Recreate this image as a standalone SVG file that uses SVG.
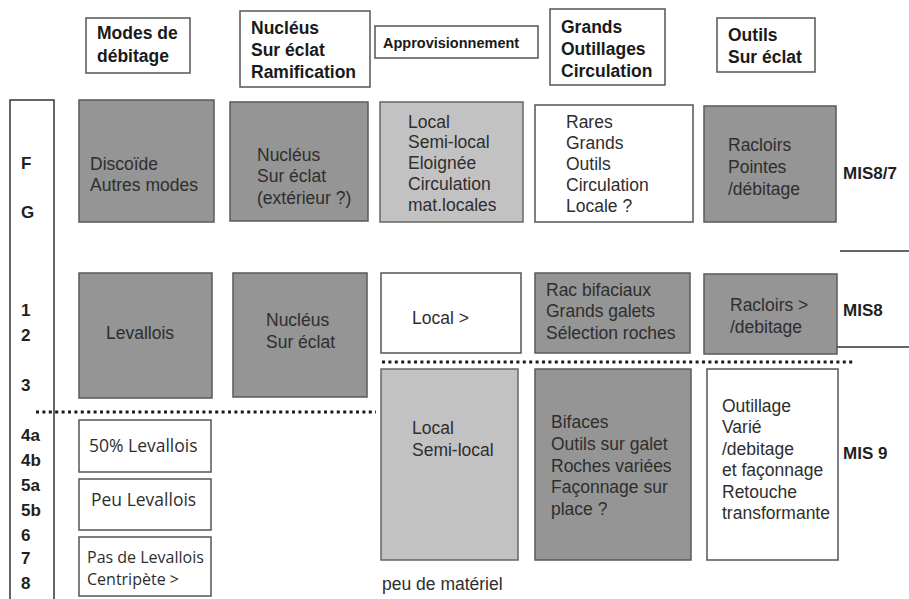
<svg xmlns="http://www.w3.org/2000/svg" width="909" height="599" viewBox="0 0 909 599">
<style>
  text { font-family: "Liberation Sans", Arial, sans-serif; fill: #2e2e2e; font-size: 17.5px; }
  .hd { font-weight: bold; fill: #1a1a1a; font-size: 17.5px; }
  .lab { font-weight: bold; fill: #1f1f1f; font-size: 17px; }
  .os { font-family: "Open Sans", "Liberation Sans", sans-serif; font-size: 17.5px; }
  .os2 { font-family: "Open Sans", "Liberation Sans", sans-serif; font-size: 16px; }
  .w { fill: #ffffff; stroke: #555; stroke-width: 1.5; }
  .dk { fill: #959595; stroke: #5a5a5a; stroke-width: 1.5; }
  .lt { fill: #c2c2c2; stroke: #666; stroke-width: 1.5; }
  .dot { stroke: #1a1a1a; stroke-width: 3; stroke-dasharray: 3 3.4; fill: none; }
  .ln { stroke: #333; stroke-width: 1.5; fill: none; }
</style>
<rect width="909" height="599" fill="#ffffff"/>

<g id="hdr-modes"><rect class="w" x="86" y="18" width="104" height="55"/>
<text class="hd" x="97" y="39">Modes de</text><text class="hd" x="97" y="62">débitage</text></g>
<g id="hdr-nucleus"><rect class="w" x="240" y="11" width="130" height="76"/>
<text class="hd" x="251" y="34">Nucléus</text><text class="hd" x="251" y="56">Sur éclat</text><text class="hd" x="251" y="78">Ramification</text></g>
<g id="hdr-appro"><rect class="w" x="375" y="26" width="163" height="32"/>
<text class="hd" x="383" y="48" style="font-size:14.5px">Approvisionnement</text></g>
<g id="hdr-grands"><rect class="w" x="550" y="9" width="115" height="76"/>
<text class="hd" x="561" y="33">Grands</text><text class="hd" x="561" y="55">Outillages</text><text class="hd" x="561" y="77">Circulation</text></g>
<g id="hdr-outils"><rect class="w" x="717" y="18" width="98" height="54"/>
<text class="hd" x="728" y="41">Outils</text><text class="hd" x="728" y="63">Sur éclat</text></g>

<g id="levels">
<path class="ln" d="M10,601 V100 H54 V601" stroke="#666"/>
<text class="lab" x="21" y="169">F</text>
<text class="lab" x="21" y="218">G</text>
<text class="lab" x="21" y="316">1</text>
<text class="lab" x="21" y="341">2</text>
<text class="lab" x="21" y="391">3</text>
<text class="lab" x="21" y="441">4a</text>
<text class="lab" x="21" y="466">4b</text>
<text class="lab" x="21" y="491">5a</text>
<text class="lab" x="21" y="516">5b</text>
<text class="lab" x="21" y="541">6</text>
<text class="lab" x="21" y="564">7</text>
<text class="lab" x="21" y="589">8</text>
</g>

<g id="r1-discoide"><rect class="dk" x="79" y="100" width="135" height="122"/>
<text x="90" y="170">Discoïde</text><text x="90" y="191">Autres modes</text></g>
<g id="r1-nucleus"><rect class="dk" x="230" y="102" width="138" height="119"/>
<text x="257" y="161">Nucléus</text><text x="257" y="182">Sur éclat</text><text x="257" y="204">(extérieur ?)</text></g>
<g id="r1-local"><rect class="lt" x="380" y="102" width="143" height="120"/>
<text x="408" y="128">Local</text><text x="408" y="148">Semi-local</text><text x="408" y="169">Eloignée</text><text x="408" y="190">Circulation</text><text x="408" y="211">mat.locales</text></g>
<g id="r1-rares"><rect class="w" x="535" y="105" width="158" height="117"/>
<text x="566" y="128">Rares</text><text x="566" y="149">Grands</text><text x="566" y="170">Outils</text><text x="566" y="191">Circulation</text><text x="566" y="212">Locale ?</text></g>
<g id="r1-racloirs"><rect class="dk" x="704" y="106" width="132" height="116"/>
<text x="728" y="151">Racloirs</text><text x="728" y="173">Pointes</text><text x="728" y="195">/débitage</text></g>
<text class="lab" x="843" y="179">MIS8/7</text>

<g id="r2-levallois"><rect class="dk" x="79" y="273" width="133" height="125"/>
<text x="106" y="339">Levallois</text></g>
<g id="r2-nucleus"><rect class="dk" x="233" y="273" width="134" height="124"/>
<text x="266" y="326">Nucléus</text><text x="266" y="348">Sur éclat</text></g>
<g id="r2-local"><rect class="w" x="381" y="273" width="140" height="80"/>
<text x="412" y="324">Local &gt;</text></g>
<g id="r2-rac"><rect class="dk" x="535" y="273" width="155" height="80"/>
<text x="546" y="296">Rac bifaciaux</text><text x="546" y="317">Grands galets</text><text x="546" y="339">Sélection roches</text></g>
<g id="r2-racloirs"><rect class="dk" x="704" y="274" width="133" height="80"/>
<text x="730" y="311">Racloirs &gt;</text><text x="730" y="333">/debitage</text></g>
<text class="lab" x="843" y="316">MIS8</text>

<g id="r3-local"><rect class="lt" x="381" y="369" width="137" height="191"/>
<text x="412" y="434">Local</text><text x="412" y="456">Semi-local</text></g>
<g id="r3-bifaces"><rect class="dk" x="535" y="369" width="156" height="191"/>
<text x="551" y="428">Bifaces</text><text x="551" y="450">Outils sur galet</text><text x="551" y="472">Roches variées</text><text x="551" y="493">Façonnage sur</text><text x="551" y="515">place ?</text></g>
<g id="r3-outillage"><rect class="w" x="707" y="369" width="131" height="191"/>
<text x="722" y="412">Outillage</text><text x="722" y="433">Varié</text><text x="722" y="455">/debitage</text><text x="722" y="476">et façonnage</text><text x="722" y="498">Retouche</text><text x="722" y="519">transformante</text></g>
<text class="lab" x="843" y="459">MIS 9</text>
<text x="382" y="590">peu de matériel</text>

<g id="l-50"><rect class="w" x="79" y="420" width="132" height="52"/>
<text class="os" x="89" y="452">50% Levallois</text></g>
<g id="l-peu"><rect class="w" x="79" y="479" width="132" height="51"/>
<text class="os" x="91" y="506">Peu Levallois</text></g>
<g id="l-pas"><rect class="w" x="79" y="537" width="132" height="59"/>
<text class="os2" x="87" y="563">Pas de Levallois</text><text class="os2" x="87" y="585">Centripète &gt;</text></g>

<g id="connectors">
<path class="dot" d="M382,362 H853"/>
<path class="dot" d="M36,412 H376"/>
<path class="ln" d="M840,251 H909"/>
<path class="ln" d="M837,347 H909"/>
</g>
</svg>
